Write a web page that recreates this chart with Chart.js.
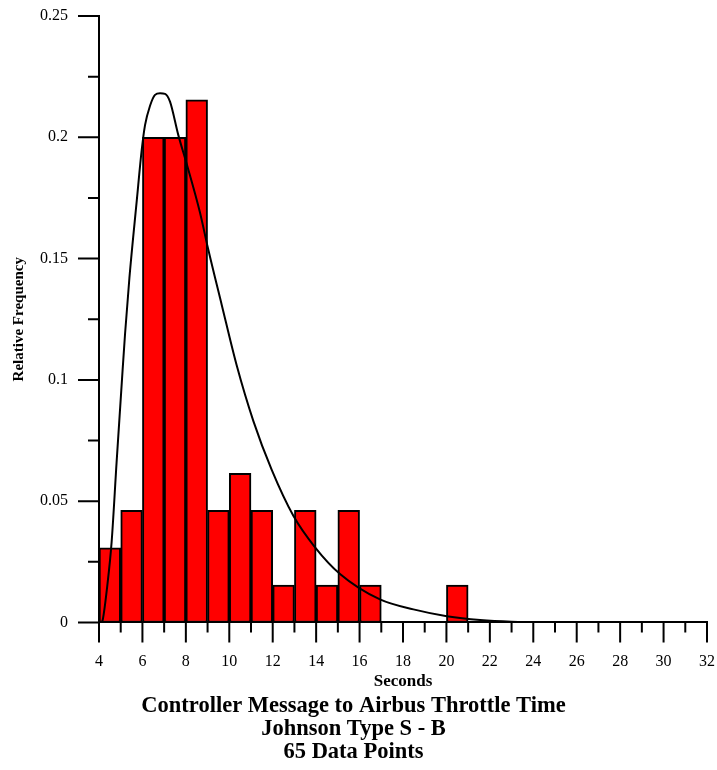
<!DOCTYPE html>
<html>
<head>
<meta charset="utf-8">
<title>Controller Message to Airbus Throttle Time</title>
<script src="https://cdn.jsdelivr.net/npm/chart.js@4.4.0/dist/chart.umd.min.js"></script>
<style>
  body { margin: 0; background: #fff; }
</style>
</head>
<body>
<canvas id="hist" width="717" height="770"></canvas>
<script>
// histogram: centre of each 1 s bin and its relative frequency
var binCenters = [4.5, 5.5, 6.5, 7.5, 8.5, 9.5, 10.5, 11.5, 12.5, 13.5, 14.5, 15.5, 16.5, 20.5];
var relFreq = [0.0308, 0.0462, 0.2, 0.2, 0.2154, 0.0462, 0.0615, 0.0462, 0.0154, 0.0462, 0.0154, 0.0462, 0.0154, 0.0154];

// fitted Johnson SB curve
var curveX = [4.12, 4.17, 4.38, 4.58, 4.81, 5.05, 5.20, 5.40, 5.74, 5.97, 6.12, 6.35, 6.58, 6.81, 7.04, 7.27, 7.65, 8.04, 8.65, 9.0, 9.65, 10.34, 11.11, 11.95, 12.95, 13.95, 15.1, 16.94, 18.48, 20.02, 21.55, 23, 25, 32];
var curveY = [0, 0.001, 0.015, 0.033, 0.066, 0.099, 0.119, 0.142, 0.174, 0.195, 0.205, 0.213, 0.2175, 0.2182, 0.2179, 0.2147, 0.201, 0.189, 0.169, 0.155, 0.131, 0.106, 0.083, 0.063, 0.044, 0.031, 0.020, 0.0095, 0.0054, 0.0026, 0.001, 0.0003, 0.0001, 0];

var titleLines = ['Controller Message to Airbus Throttle Time', 'Johnson Type S - B', '65 Data Points'];

Chart.defaults.font.family = "'Liberation Serif', 'Times New Roman', serif";
Chart.defaults.color = '#000';

function isMajorY(v) {
  return Math.round(v * 1000) % 50 === 0;
}

// long and short tick marks, drawn from the scales
var tickMarks = {
  id: 'tickMarks',
  afterDraw: function(chart) {
    var ctx = chart.ctx;
    var xs = chart.scales.x, ys = chart.scales.y;
    var area = chart.chartArea;
    ctx.save();
    ctx.strokeStyle = '#000';
    ctx.lineWidth = 2;
    ctx.beginPath();
    xs.ticks.forEach(function(t) {
      var px = xs.getPixelForValue(t.value);
      var len = (Math.round(t.value) % 2 === 0) ? 20 : 10;
      ctx.moveTo(px, area.bottom);
      ctx.lineTo(px, area.bottom + len);
    });
    ys.ticks.forEach(function(t) {
      var py = ys.getPixelForValue(t.value);
      var len = isMajorY(t.value) ? 21 : 11;
      ctx.moveTo(area.left - len, py);
      ctx.lineTo(area.left, py);
    });
    ctx.stroke();
    ctx.restore();
  }
};

var curvePts = curveX.map(function(x, i) { return {x: x, y: curveY[i]}; });
var barPts = binCenters.map(function(x, i) { return {x: x, y: relFreq[i]}; });

new Chart(document.getElementById('hist'), {
  data: {
    datasets: [
      {
        type: 'line',
        data: curvePts,
        borderColor: '#000',
        borderWidth: 2,
        pointRadius: 0,
        cubicInterpolationMode: 'monotone',
        order: 0
      },
      {
        type: 'bar',
        data: barPts,
        backgroundColor: '#ff0000',
        borderColor: '#000',
        borderWidth: 2,
        borderSkipped: false,
        barPercentage: 1,
        categoryPercentage: 1,
        grouped: false,
        order: 1
      }
    ]
  },
  options: {
    responsive: false,
    animation: false,
    layout: { padding: { top: 16, right: 10, bottom: 0, left: 0 } },
    plugins: {
      legend: { display: false },
      tooltip: { enabled: false },
      title: {
        display: true,
        position: 'bottom',
        text: titleLines,
        color: '#000',
        font: { size: 22.5, weight: 'bold', lineHeight: 1.03 },
        padding: { top: 0, bottom: 6 }
      }
    },
    scales: {
      x: {
        type: 'linear',
        offset: false,
        min: 4,
        max: 32,
        grid: { display: false, drawTicks: false, offset: false },
        border: { display: true, color: '#000', width: 2 },
        ticks: {
          stepSize: 1,
          autoSkip: false,
          maxRotation: 0,
          padding: 30,
          font: { size: 16 },
          callback: function(v) { return v % 2 === 0 ? String(v) : ''; }
        },
        title: {
          display: true,
          text: 'Seconds',
          font: { size: 17, weight: 'bold' },
          padding: { top: 0, bottom: 3 }
        },
        afterFit: function(s) {
          s.height = 72;
          s.paddingLeft = 0;
          s.paddingRight = 0;
        }
      },
      y: {
        min: 0,
        max: 0.25,
        grid: { display: false, drawTicks: false },
        border: { display: true, color: '#000', width: 2 },
        ticks: {
          stepSize: 0.025,
          autoSkip: false,
          padding: 31,
          font: { size: 16 },
          callback: function(v) { return isMajorY(v) ? String(parseFloat(v.toFixed(3))) : ''; }
        },
        title: {
          display: true,
          text: 'Relative Frequency',
          font: { size: 15, weight: 'bold' },
          padding: { top: 10, bottom: 0 }
        },
        afterFit: function(s) {
          s.width = 99;
          s.paddingTop = 0;
          s.paddingBottom = 0;
        }
      }
    }
  },
  plugins: [tickMarks]
});
</script>
</body>
</html>
